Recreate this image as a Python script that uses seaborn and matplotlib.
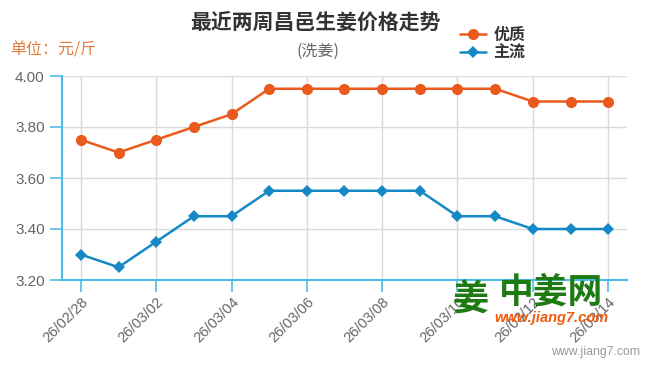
import matplotlib
matplotlib.use("Agg")
import matplotlib.pyplot as plt
import seaborn as sns
import pandas as pd

dates = ["26/02/28", "26/03/01", "26/03/02", "26/03/03", "26/03/04", "26/03/05",
         "26/03/06", "26/03/07", "26/03/08", "26/03/09", "26/03/10", "26/03/11",
         "26/03/12", "26/03/13", "26/03/14"]
premium = [3.75, 3.70, 3.75, 3.80, 3.85, 3.95, 3.95, 3.95, 3.95, 3.95, 3.95, 3.95, 3.90, 3.90, 3.90]
mainstream = [3.30, 3.25, 3.35, 3.45, 3.45, 3.55, 3.55, 3.55, 3.55, 3.55, 3.45, 3.45, 3.40, 3.40, 3.40]
yticks = [3.20, 3.40, 3.60, 3.80, 4.00]
series_names = ["优质", "主流"]

sns.set_theme(style="white")
plt.rcParams['font.family'] = ['Liberation Sans', 'Noto Sans CJK SC', 'DejaVu Sans']
CJK = ['Noto Sans CJK SC', 'DejaVu Sans']

ORANGE = "#EA5A1C"
BLUE = "#1589C6"
AXIS = "#4DBDE8"
GRID = "#D9D9D9"
TXT = "#666666"

df = pd.DataFrame({"idx": list(range(len(dates))), "date": dates,
                   "premium": premium, "mainstream": mainstream})

fig = plt.figure(figsize=(6.5, 3.67), dpi=100)
ax = fig.add_axes([62/650, 1-280/367, (627-62)/650, (280-76)/367])

sns.lineplot(data=df, x="idx", y="premium", ax=ax, color=ORANGE, marker="o",
             markersize=8, markeredgewidth=0, linewidth=1.8, label=series_names[0], legend=False, zorder=4)
sns.lineplot(data=df, x="idx", y="mainstream", ax=ax, color=BLUE, marker="D",
             markersize=6, markeredgewidth=0, linewidth=1.8, label=series_names[1], legend=False, zorder=4)

ax.set_xlim(-0.5, len(dates) - 0.5)
ax.set_ylim(3.20, 4.00)
ax.set_yticks(yticks)
ax.set_yticklabels([f"{v:.2f}" for v in yticks], fontsize=11, color=TXT)
xt = list(range(0, len(dates), 2))
ax.set_xticks(xt)
ax.set_xticklabels([dates[i] for i in xt], rotation=45, ha="right", rotation_mode="anchor",
                   fontsize=10.5, color=TXT)
ax.set_xlabel("")
ax.set_ylabel("")

ax.grid(True, color=GRID, linewidth=1)
ax.set_axisbelow(True)
for s in ["top", "right"]:
    ax.spines[s].set_visible(False)
for s in ["left", "bottom"]:
    ax.spines[s].set_color(AXIS)
    ax.spines[s].set_linewidth(1.5)
ax.tick_params(axis="both", which="both", direction="out", length=8.5, width=1.2, color=AXIS,
               bottom=True, left=True, pad=2)
ax.tick_params(axis="y", pad=4)

# Titles
fig.text(190/650, 1-22/367, "最近两周昌邑生姜价格走势", ha="left", va="center",
         fontsize=15, fontweight="bold", color="#333333", family=CJK)
fig.text(318/650, 1-51/367, "(洗姜)", ha="center", va="center", fontsize=11.5, color=TXT, family=CJK)
fig.text(10/650, 1-50/367, "单位：元/斤", ha="left", va="center", fontsize=11.5,
         color="#E07B39", family=CJK)

# Legend
handles, labels = ax.get_legend_handles_labels()
leg = fig.legend(handles, labels, loc="upper left", bbox_to_anchor=(452/650, 1-19/367),
                 frameon=False, prop={"family": CJK, "size": 11.5, "weight": "bold"},
                 handlelength=1.6, handletextpad=0.5, labelspacing=0.12, borderpad=0)
for t in leg.get_texts():
    t.set_color("#333333")

# Watermark
fig.text(470/650, 1-300/367, "姜", ha="center", va="center", fontsize=26, color="#1E7A12",
         fontweight="bold", family=CJK, zorder=10)
fig.text(551/650, 1-292/367, "中姜网", ha="center", va="center", fontsize=25, color="#1E7A12",
         fontweight="bold", family=CJK, zorder=10)
fig.text(551/650, 1-318/367, "www.jiang7.com", ha="center", va="center", fontsize=10.5,
         color="#F05A0A", fontweight="bold", style="italic", zorder=10)
fig.text(640/650, 1-352/367, "www.jiang7.com", ha="right", va="center", fontsize=8.8,
         color="#999999")

fig.savefig("out.png", dpi=100, facecolor="white")
